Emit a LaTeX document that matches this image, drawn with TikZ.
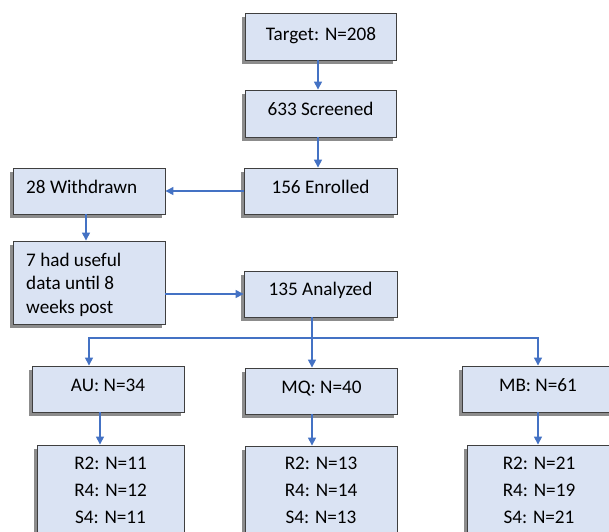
\documentclass[tikz,border=0pt]{standalone}
\usepackage{fontspec}
\setmainfont{Carlito}
\usetikzlibrary{arrows.meta,shadows,calc}
\definecolor{boxfill}{HTML}{DAE3F3}
\definecolor{boxline}{HTML}{3F3F3F}
\definecolor{arrowblue}{HTML}{4472C4}
\definecolor{shadowgray}{HTML}{8C8C8C}
\begin{document}
\begin{tikzpicture}[x=1pt,y=-1pt,
  box/.style={draw=boxline, line width=0.9pt, fill=boxfill, inner sep=0pt,
    general shadow={fill=shadowgray, shadow xshift=-3.5pt, shadow yshift=-3.5pt}},
  txt/.style={inner sep=0pt, font=\fontsize{19.2}{24}\selectfont, text=black},
  arr/.style={draw=arrowblue, line width=1.4pt, -{Triangle[length=8pt,width=8pt]}},
  ln/.style={draw=arrowblue, line width=1.4pt}]
\useasboundingbox (0,0) rectangle (609,531);
\clip (0,0) rectangle (609,531);

% boxes
\node[box, minimum width=151pt, minimum height=47pt] (target) at (320.5,36.5) {};
\node[box, minimum width=151pt, minimum height=47pt] (screened) at (320.5,113.5) {};
\node[box, minimum width=153pt, minimum height=46pt] (enrolled) at (320.5,191) {};
\node[box, minimum width=152pt, minimum height=46pt] (withdrawn) at (89,191) {};
\node[box, minimum width=152pt, minimum height=83pt] (useful) at (89,282.5) {};
\node[box, minimum width=153pt, minimum height=46pt] (analyzed) at (320.5,294) {};
\node[box, minimum width=152pt, minimum height=46pt] (au) at (108,389) {};
\node[box, minimum width=152pt, minimum height=46pt] (mq) at (321,391) {};
\node[box, minimum width=152pt, minimum height=46pt] (mb) at (538,389) {};
\node[box, minimum width=147pt, minimum height=115pt] (aur) at (110.5,502.5) {};
\node[box, minimum width=152pt, minimum height=115pt] (mqr) at (321,503.5) {};
\node[box, minimum width=147pt, minimum height=115pt] (mbr) at (540.5,502.5) {};

% texts
\node[txt, anchor=base] (target-t) at (321,40) {Target: N=208};
\node[txt, anchor=base] (screened-t) at (320.5,115) {633 Screened};
\node[txt, anchor=base] (enrolled-t) at (320.5,193) {156 Enrolled};
\node[txt, anchor=base west] (withdrawn-t) at (26,193) {28 Withdrawn};
\node[txt, anchor=base west] (useful-t1) at (26,266) {7 had useful};
\node[txt, anchor=base west] (useful-t2) at (26,289.5) {data until 8};
\node[txt, anchor=base west] (useful-t3) at (26,313) {weeks post};
\node[txt, anchor=base] (analyzed-t) at (320.5,295) {135 Analyzed};
\node[txt, anchor=base] (au-t) at (108,391) {AU: N=34};
\node[txt, anchor=base] (mq-t) at (321.5,393) {MQ: N=40};
\node[txt, anchor=base] (mb-t) at (538,391) {MB: N=61};
\node[txt, anchor=base] (aur-1) at (110.5,469) {R2: N=11};
\node[txt, anchor=base] (aur-2) at (110.5,496) {R4: N=12};
\node[txt, anchor=base] (aur-3) at (110.5,523) {S4: N=11};
\node[txt, anchor=base] (mqr-1) at (321,469) {R2: N=13};
\node[txt, anchor=base] (mqr-2) at (321,496) {R4: N=14};
\node[txt, anchor=base] (mqr-3) at (321,523) {S4: N=13};
\node[txt, anchor=base] (mbr-1) at (539,469) {R2: N=21};
\node[txt, anchor=base] (mbr-2) at (539,496) {R4: N=19};
\node[txt, anchor=base] (mbr-3) at (539,523) {S4: N=21};

% connectors
\coordinate (xa) at (318,0);
\draw[arr] (target.south -| xa) -- (screened.north -| xa);
\draw[arr] (screened.south -| xa) -- (enrolled.north -| xa);
\draw[arr] (enrolled.west) -- (withdrawn.east);
\coordinate (xw) at (86,0);
\draw[arr] (withdrawn.south -| xw) -- (useful.north -| xw);
\draw[arr] (useful.east |- analyzed.west) -- (analyzed.west);
\coordinate (bus) at (312,338);
\coordinate (busl) at (89,338);
\coordinate (busr) at (538,338);
\draw[ln] (analyzed.south -| bus) -- (bus);
\draw[arr] (bus) -- (mq.north -| bus);
\draw[arr] (bus) -- (busl) -- (au.north -| busl);
\draw[arr] (bus) -- (busr) -- (mb.north -| busr);
\coordinate (xau) at (100,0);
\draw[arr] (au.south -| xau) -- (aur.north -| xau);
\draw[arr] (mq.south -| bus) -- (mqr.north -| bus);
\draw[arr] (mb.south -| busr) -- (mbr.north -| busr);
\end{tikzpicture}
\end{document}
